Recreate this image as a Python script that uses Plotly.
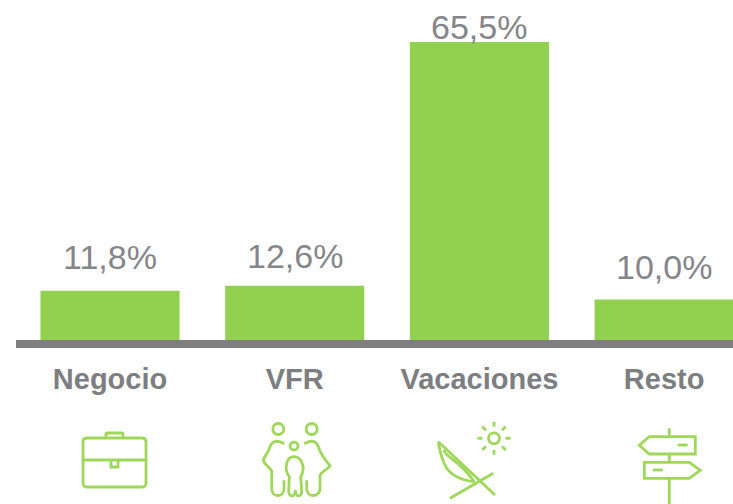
import math
import re
import plotly.graph_objects as go

categories = ["Negocio", "VFR", "Vacaciones", "Resto"]
value_labels = ["11,8%", "12,6%", "65,5%", "10,0%"]
# Drawn bar heights (the original is not strictly to scale)
bar_heights = [10.8, 11.9, 65.5, 8.9]

W, H = 733, 504
PLOT_BOTTOM = 340
GREEN = "#92d050"
GREY = "#7f7f7f"
ICON = "#9ed75a"
LABEL_FONT = "Liberation Sans, Arial, sans-serif"
LABEL_SHIFTS = [13, 8.5, -6, 12]


def to_paper(path):
    """Convert an SVG path in page pixels into paper coordinates."""
    out, is_x = [], True
    for tok in re.findall(r"[MLCQZ]|-?\d+\.?\d*", path):
        if tok in "MLCQZ":
            out.append(tok)
            is_x = True
        else:
            v = float(tok)
            out.append(f"{v / W:.5f}" if is_x else f"{(PLOT_BOTTOM - v) / PLOT_BOTTOM:.5f}")
            is_x = not is_x
    return " ".join(out)


def circle(cx, cy, r):
    k = 0.5523 * r
    return (f"M {cx - r} {cy} C {cx - r} {cy - k} {cx - k} {cy - r} {cx} {cy - r} "
            f"C {cx + k} {cy - r} {cx + r} {cy - k} {cx + r} {cy} "
            f"C {cx + r} {cy + k} {cx + k} {cy + r} {cx} {cy + r} "
            f"C {cx - k} {cy + r} {cx - r} {cy + k} {cx - r} {cy} Z")


def b(zx, zy):  # signpost crop
    return f"{366 + zx / 3:.1f} {330 + zy / 3:.1f}"


def f_(zx, zy):  # family crop
    return f"{250 + zx / 3:.1f} {415 + zy / 3:.1f}"


def c_(zx, zy):  # deck chair crop
    return f"{430 + zx / 3:.1f} {415 + zy / 3:.1f}"


icons = [
    # briefcase
    "M 87 438 L 142 438 Q 146 438 146 442 L 146 483 Q 146 487 142 487 L 87 487 Q 83 487 83 483 L 83 442 Q 83 438 87 438 Z",
    "M 106 438 L 106 434 Q 106 433 108 433 L 121 433 Q 123 433 123 434 L 123 438",
    "M 83 460 L 146 460",
    "M 111 460 L 111 467 L 118 467 L 118 460",
    # family
    circle(278.3, 429, 5.5), circle(311.7, 429, 5.5), circle(294, 446, 4),
    f"M {f_(103, 86)} C {f_(85, 76)} {f_(68, 74)} {f_(60, 95)} C {f_(55, 115)} {f_(45, 120)} {f_(40, 135)} "
    f"C {f_(42, 150)} {f_(62, 155)} {f_(65, 170)} L {f_(65, 222)} C {f_(67, 248)} {f_(100, 248)} {f_(102, 222)} L {f_(102, 196)}",
    f"M {f_(163, 86)} C {f_(180, 76)} {f_(198, 74)} {f_(205, 95)} C {f_(212, 120)} {f_(225, 135)} {f_(240, 152)} "
    f"C {f_(232, 165)} {f_(212, 170)} {f_(210, 182)} L {f_(210, 222)} C {f_(207, 248)} {f_(172, 248)} {f_(170, 222)} L {f_(170, 196)}",
    f"M {f_(132, 125)} C {f_(110, 125)} {f_(100, 160)} {f_(118, 185)} L {f_(116, 228)} C {f_(118, 248)} {f_(135, 248)} {f_(136, 225)} "
    f"C {f_(137, 248)} {f_(155, 248)} {f_(155, 228)} L {f_(152, 185)} C {f_(168, 160)} {f_(155, 125)} {f_(132, 125)} Z",
    # deck chair
    f"M {c_(25, 80)} L {c_(195, 240)}",
    f"M {c_(60, 250)} L {c_(190, 175)}",
    f"M {c_(25, 80)} C {c_(35, 140)} {c_(45, 190)} {c_(133, 200)}",
    f"M {c_(42, 104)} C {c_(42, 125)} {c_(90, 135)} {c_(133, 200)}",
    circle(494, 438.3, 5.5),
    # signpost
    f"M {b(820, 346)} L {b(850, 320)} L {b(988, 320)} L {b(988, 372)} L {b(850, 372)} Z",
    f"M {b(835, 397)} L {b(970, 397)} L {b(1003, 421)} L {b(970, 445)} L {b(835, 445)} Z",
    f"M {b(910, 295)} L {b(910, 320)}",
    f"M {b(910, 372)} L {b(910, 397)}",
    f"M {b(910, 445)} L {b(910, 522)}",
    f"M {b(935, 345)} L {b(965, 345)}",
    f"M {b(860, 420)} L {b(890, 420)}",
]
# sun rays
for i in range(8):
    t = i * math.pi / 4
    x0, y0 = 494 + 11.5 * math.cos(t), 438.3 + 11.5 * math.sin(t)
    x1, y1 = 494 + 16.5 * math.cos(t), 438.3 + 16.5 * math.sin(t)
    icons.append(f"M {x0:.1f} {y0:.1f} L {x1:.1f} {y1:.1f}")

shapes = [
    dict(type="path", xref="paper", yref="paper", path=to_paper(p),
         line=dict(color=ICON, width=2.8), layer="above")
    for p in icons
]

annotations = [
    dict(x=cat, y=h, text=txt, yanchor="bottom", xanchor="center", yshift=s, showarrow=False,
         font=dict(family=LABEL_FONT, size=34, color="#84868a"))
    for cat, h, txt, s in zip(categories, bar_heights, value_labels, LABEL_SHIFTS)
]

fig = go.Figure(
    go.Bar(
        x=categories,
        y=bar_heights,
        cliponaxis=False,
        marker=dict(color=GREEN, line=dict(width=0)),
        width=0.753,
        hoverinfo="skip",
    )
)
fig.update_layout(
    width=W,
    height=H,
    margin=dict(l=0, r=0, t=0, b=H - PLOT_BOTTOM, pad=0),
    paper_bgcolor="white",
    plot_bgcolor="white",
    showlegend=False,
    shapes=shapes,
    annotations=annotations,
    xaxis=dict(
        type="category",
        domain=[16 / W, 1],
        range=[-0.509, 3.373],
        showline=True,
        linecolor=GREY,
        linewidth=8,
        showgrid=False,
        ticks="",
        tickfont=dict(family=LABEL_FONT, size=29, color="#7c7e82", weight="bold"),
        ticklabelstandoff=6,
    ),
    yaxis=dict(range=[0, 74.73], visible=False, fixedrange=True),
)
fig.write_html(
    "out.html",
    config={"displayModeBar": False},
    post_script="document.body.style.margin='0';document.body.style.overflow='hidden';",
)
